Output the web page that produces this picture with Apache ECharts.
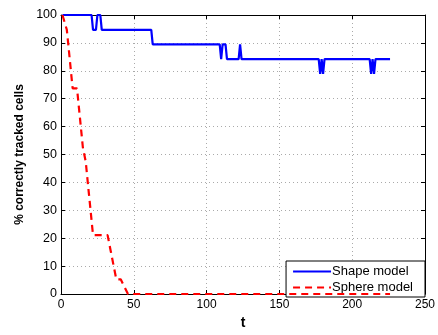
<!DOCTYPE html>
<html><head><meta charset="utf-8">
<script src="https://cdn.jsdelivr.net/npm/echarts@6/dist/echarts.min.js"></script>
<style>html,body{margin:0;padding:0;background:#fff}#c{width:438px;height:335px}</style>
</head><body><div id="c"></div>
<script>
const xTicks = [0, 50, 100, 150, 200, 250];
const yTicks = [0, 10, 20, 30, 40, 50, 60, 70, 80, 90, 100];
const seriesNames = ['Shape model', 'Sphere model'];
const shapeT = [1, 21, 22, 24, 25, 27, 28, 62, 63, 109, 110, 111, 113, 114, 122, 123, 124, 177, 178, 179, 180, 181, 212, 213, 214, 215, 216, 226];
const shapeV = [100, 100, 94.7, 94.7, 100, 100, 94.7, 94.7, 89.5, 89.5, 84.2, 89.5, 89.5, 84.2, 84.2, 89.5, 84.2, 84.2, 78.9, 84.2, 78.9, 84.2, 84.2, 78.9, 84.2, 78.9, 84.2, 84.2];
const sphereT = [1, 4, 5, 6, 7, 8, 11, 12, 13, 14, 15, 16, 17, 18, 19, 20, 21, 22, 32, 34, 36, 38, 41, 46, 226];
const sphereV = [100, 94.7, 89.5, 84.2, 78.9, 73.7, 73.7, 68.4, 63.2, 57.9, 52.6, 52.6, 47.4, 42.1, 36.8, 31.6, 26.3, 21.1, 21.1, 15.8, 10.5, 5.26, 5.26, 0, 0];

const font = 'Liberation Sans, Arial, Helvetica, sans-serif';
const chart = echarts.init(document.getElementById('c'));
const gridStyle = {show: true, lineStyle: {color: '#aaa', type: [1, 3], width: 1}};
const axisLine = {show: true, onZero: false, lineStyle: {color: '#000', width: 1}};
const axisTick = {show: true, inside: true, length: 4, lineStyle: {color: '#000'}};
chart.setOption({
  animation: false,
  grid: {left: 61, right: 11, top: 15, bottom: 33},
  legend: {
    data: seriesNames, orient: 'vertical', right: 13, bottom: 38,
    backgroundColor: '#fff', borderColor: '#000', borderWidth: 1,
    padding: [4, 12, 3, 6], itemGap: 3, itemWidth: 38, itemHeight: 14,
    itemStyle: {color: 'transparent', borderWidth: 0, opacity: 0},
    textStyle: {fontFamily: font, fontSize: 13, color: '#000', padding: [0, 0, 0, -4]}
  },
  xAxis: [{
    type: 'value', min: 0, max: 250, interval: 50,
    name: 't', nameLocation: 'middle', nameGap: 22,
    nameTextStyle: {fontFamily: font, fontSize: 14, fontWeight: 'bold', color: '#000'},
    axisLine, axisTick, splitLine: gridStyle,
    axisLabel: {fontFamily: font, fontSize: 12, color: '#000', margin: 5,
      formatter: v => xTicks.includes(v) ? String(v) : ''}
  }, {
    type: 'value', position: 'top', min: 0, max: 250, interval: 50,
    axisLine, axisTick, axisLabel: {show: false}, splitLine: {show: false}
  }],
  yAxis: [{
    type: 'value', min: 0, max: 100, interval: 10,
    name: '% correctly tracked cells', nameLocation: 'middle', nameGap: 31,
    nameTextStyle: {fontFamily: font, fontSize: 12, fontWeight: 'bold', color: '#000'},
    axisLine, axisTick, splitLine: gridStyle,
    axisLabel: {fontFamily: font, fontSize: 12.5, color: '#000', margin: 4,
      formatter: v => yTicks.includes(v) ? String(v) : ''}
  }, {
    type: 'value', position: 'right', min: 0, max: 100, interval: 10,
    axisLine, axisTick, axisLabel: {show: false}, splitLine: {show: false}
  }],
  series: [{
    name: seriesNames[0], type: 'line', symbol: 'none', showSymbol: false,
    data: shapeT.map((t, i) => [t, shapeV[i]]),
    lineStyle: {color: '#0000ff', width: 2.2}, itemStyle: {color: '#0000ff'}, z: 3
  }, {
    name: seriesNames[1], type: 'line', symbol: 'none', showSymbol: false,
    data: sphereT.map((t, i) => [t, sphereV[i]]),
    lineStyle: {color: '#ff0000', width: 2.2, type: [7, 5]}, itemStyle: {color: '#ff0000'}, z: 4
  }]
});
</script></body></html>
